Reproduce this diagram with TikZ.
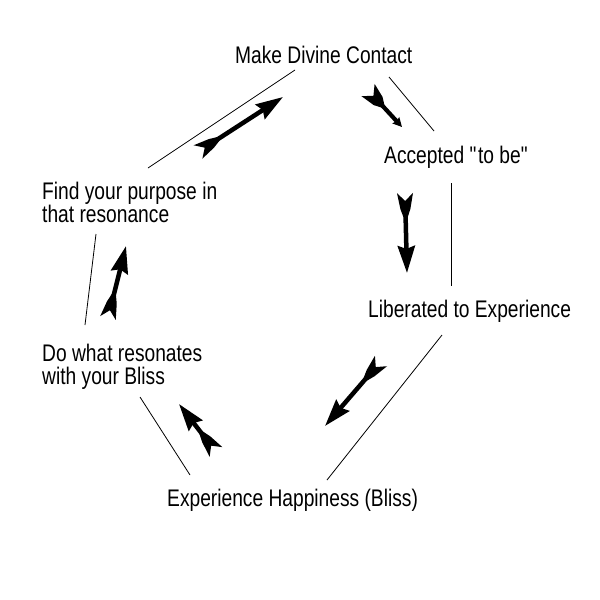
\documentclass[tikz,border=0pt]{standalone}
\usepackage{fontspec}
\setmainfont[FakeStretch=0.8]{Liberation Sans}
\usetikzlibrary{arrows.meta}
\begin{document}
\begin{tikzpicture}[x=1pt,y=-1pt,
  lbl/.style={inner sep=0pt,anchor=base west,align=left,font=\fontsize{24}{23}\selectfont},
  thin/.style={line width=0.8pt},
  fletch/.pic={\fill (0,8) -- (8,0) -- (0,-8) -- (16,-5) -- (24,-2.2) -- (24,2.2) -- (16,5) -- cycle;},
  bigfletch/.pic={\fill (0,9) -- (8,0) -- (0,-9) -- (15,-6) -- (22,-2) -- (22,2) -- (15,6) -- cycle;},
  bigarrow/.style={line width=4.5pt,shorten <=12pt,-{Stealth[length=27pt,width=17pt,inset=3pt]}},
  smallarrow/.style={line width=4.2pt,shorten <=12pt,-{Stealth[length=9pt,width=9pt,inset=1pt]}}]
\useasboundingbox[fill=white] (0,0) rectangle (600,600);
\node[lbl] (mdc) at (235,63) {Make Divine Contact};
\node[lbl] (acc) at (384,163) {Accepted \textquotedbl to be\textquotedbl};
\node[lbl] (lib) at (368,317) {Liberated to Experience};
\node[lbl] (exp) at (167,506) {Experience Happiness (Bliss)};
\node[lbl] (dow) at (42,384) {Do what resonates\\with your Bliss};
\node[lbl] (fyp) at (42,222) {Find your purpose in\\that resonance};
% line end points
\coordinate (l1a) at (148,168); \coordinate (l1b) at (295,70);
\coordinate (l2a) at (389,77);  \coordinate (l2b) at (434,131);
\coordinate (l3a) at (451,183); \coordinate (l3b) at (451,286);
\coordinate (l4a) at (442,335); \coordinate (l4b) at (327,480);
\coordinate (l5a) at (190,475); \coordinate (l5b) at (140,397);
\coordinate (l6a) at (96,234);  \coordinate (l6b) at (85,325);
\draw[thin] (l1a) -- (l1b);
\draw[thin] (l2a) -- (l2b);
\draw[thin] (l3a) -- (l3b);
\draw[thin] (l4a) -- (l4b);
\draw[thin] (l5a) -- (l5b);
\draw[thin] (l6a) -- (l6b);
% arrows
\coordinate (a1a) at (198,152); \coordinate (a1b) at (283,97);
\coordinate (a2a) at (368,90);  \coordinate (a2b) at (402,127);
\coordinate (a3a) at (405,193); \coordinate (a3b) at (407,273);
\coordinate (a4a) at (381,361); \coordinate (a4b) at (325,426);
\coordinate (a5a) at (216,452); \coordinate (a5b) at (179,404);
\coordinate (a6a) at (108,318); \coordinate (a6b) at (126,246);
\draw[bigarrow] (a1a) -- (a1b) pic[pos=0,sloped,allow upside down]{fletch};
\draw[smallarrow] (a2a) -- (a2b) pic[pos=0,sloped,allow upside down]{bigfletch};
\draw[bigarrow] (a3a) -- (a3b) pic[pos=0,sloped,allow upside down]{fletch};
\draw[bigarrow] (a4a) -- (a4b) pic[pos=0,sloped,allow upside down]{fletch};
\draw[bigarrow] (a5a) -- (a5b) pic[pos=0,sloped,allow upside down]{fletch};
\draw[bigarrow] (a6a) -- (a6b) pic[pos=0,sloped,allow upside down]{fletch};
\end{tikzpicture}
\end{document}
